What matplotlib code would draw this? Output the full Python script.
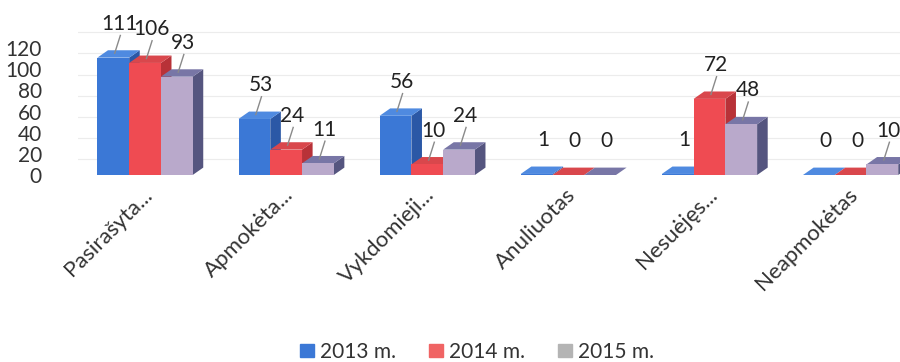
import numpy as np
import matplotlib.pyplot as plt
from matplotlib.patches import Polygon, Patch

plt.rcParams['font.family'] = ['Lato', 'DejaVu Sans']

categories = ["Pasirašyta...", "Apmokėta...", "Vykdomieji...", "Anuliuotas", "Nesuėjęs...", "Neapmokėtas"]
years = ["2013 m.", "2014 m.", "2015 m."]
v2013 = [111, 53, 56, 1, 1, 0]
v2014 = [106, 24, 10, 0, 72, 0]
v2015 = [93, 11, 24, 0, 48, 10]
series = [v2013, v2014, v2015]

# front / side / top shades per series
front = ["#3b78d6", "#ef4b52", "#b9a9cb"]
side = ["#2b58a6", "#b83238", "#55557f"]
top = ["#4f8ae0", "#d9474c", "#7876a6"]
legend_col = ["#3b78d6", "#f06464", "#b4b4b4"]

fig = plt.figure(figsize=(9, 3.62), dpi=100)
ax = fig.add_axes([78 / 900, 187 / 362, 822 / 900, 148 / 362])

w = 0.225
dx, dy = 0.075, 7
x = np.arange(len(categories))
z = 2
for i, vals in enumerate(series):
    xs = x + (i - 1) * w
    for xc, v in zip(xs, vals):
        l, r = xc - w / 2, xc + w / 2
        ax.add_patch(Polygon([(r, 0), (r + dx, dy), (r + dx, v + dy), (r, v)],
                             closed=True, fc=side[i], ec="none", zorder=z))
        ax.add_patch(Polygon([(l, v), (l + dx, v + dy), (r + dx, v + dy), (r, v)],
                             closed=True, fc=top[i], ec="none", zorder=z))
    ax.bar(xs, vals, width=w, color=front[i], zorder=z + 1)
    z += 2
    for xc, v in zip(xs, vals):
        ax.text(xc + 0.045, v + 32, str(v), ha="center", va="center",
                fontsize=15, color="#222222", zorder=20, clip_on=False)
        if v > 1:
            ax.plot([xc + 0.01, xc + 0.05], [v + dy * 0.6, v + 21],
                    color="#8a8a8a", lw=1, zorder=19, clip_on=False)

# faint back-wall grid
for g in range(0, 140, 20):
    ax.axhline(g + 15, color="#ececec", lw=0.8, zorder=0)

ax.set_xlim(-0.475, 5.35)
ax.set_ylim(0, 140)
ax.set_yticks(range(0, 140, 20))
ax.tick_params(axis="y", length=0, pad=26, labelsize=15, labelcolor="#333333")
ax.set_xticks([])
for s in ax.spines.values():
    s.set_visible(False)

for xc, name in zip(x, categories):
    ax.text(xc - 0.02, -9, name, rotation=45, rotation_mode="anchor",
            ha="right", va="top", fontsize=16, color="#333333", clip_on=False)

handles = [Patch(color=c, label=y) for c, y in zip(legend_col, years)]
fig.legend(handles=handles, loc="center", bbox_to_anchor=(0.53, 0.028), ncol=3,
           frameon=False, fontsize=15, handlelength=0.65, handleheight=0.65,
           handletextpad=0.3, columnspacing=1.6, labelcolor="#333333")

fig.savefig("out.png")
